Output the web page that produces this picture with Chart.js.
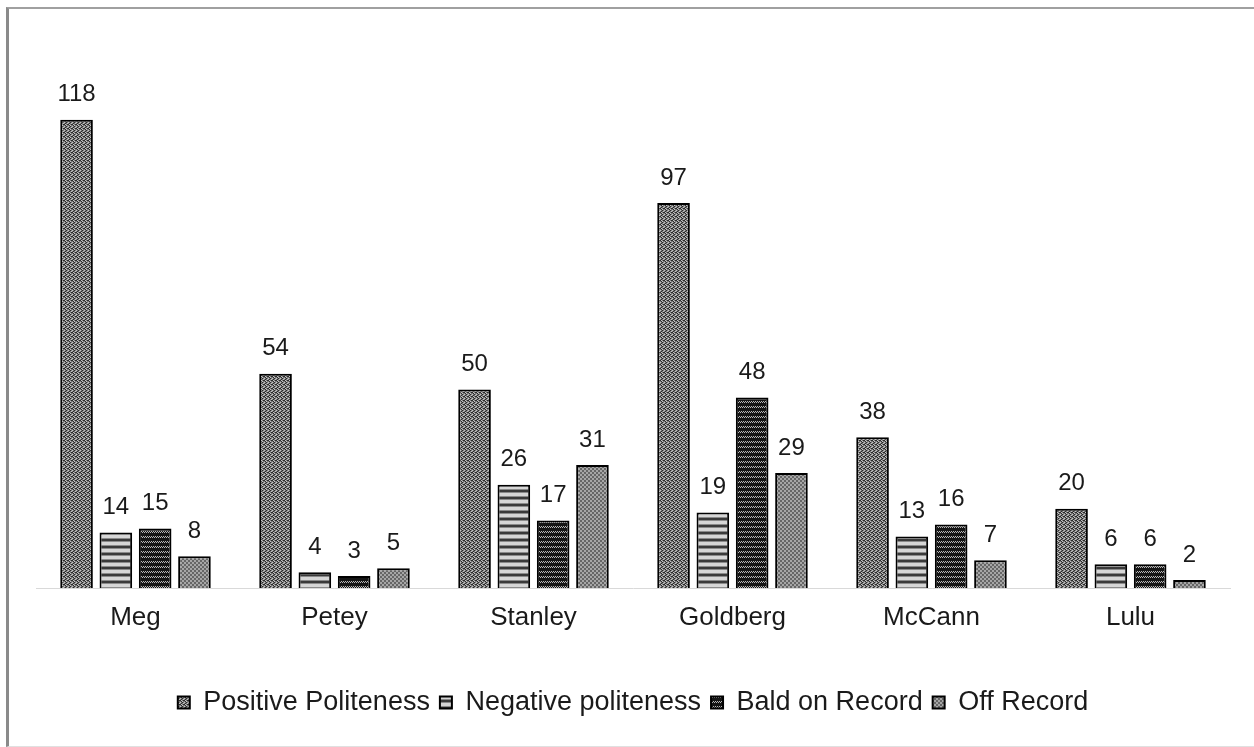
<!DOCTYPE html>
<html>
<head>
<meta charset="utf-8">
<script src="https://cdn.jsdelivr.net/npm/chart.js@4.4.1/dist/chart.umd.min.js"></script>
<style>
  html, body { margin: 0; padding: 0; background: #fff; }
  #wrap { position: relative; width: 1254px; height: 747px; }
  #frame {
    position: absolute; left: 6px; top: 7px; right: 0; bottom: 0;
    border-left: 3px solid #8a8a8a; border-top: 2px solid #a0a0a0; border-bottom: 1px solid #e0e0e0;
    pointer-events: none;
  }
</style>
</head>
<body>
<div id="wrap">
  <canvas id="chart" width="1254" height="747"></canvas>
  <div id="frame"></div>
</div>
<script>
// chart data
const categories = ['Meg', 'Petey', 'Stanley', 'Goldberg', 'McCann', 'Lulu'];
const positivePoliteness = [118, 54, 50, 97, 38, 20];
const negativePoliteness = [14, 4, 26, 19, 13, 6];
const baldOnRecord = [15, 3, 17, 48, 16, 6];
const offRecord = [8, 5, 31, 29, 7, 2];

const FONT = '"Liberation Sans", Arial, sans-serif';

// build a small tiled pattern from rows of colour keys
function makePattern(rows, palette) {
    const c = document.createElement('canvas');
    c.width = rows[0].length;
    c.height = rows.length;
    const g = c.getContext('2d');
    rows.forEach((row, y) => {
        [...row].forEach((k, x) => {
            g.fillStyle = palette[k];
            g.fillRect(x, y, 1, 1);
        });
    });
    return g.createPattern(c, 'repeat');
}

const patPositive = makePattern([
    'bwgb',
    'gbwg',
    'wgbg',
    'gbgw'
], { b: '#2a2a2a', g: '#7a7a7a', w: '#c4c4c4' });

const patNegative = makePattern([
    'd', 'd', 'g', 'l', 'l', 'l', 'g'
], { d: '#3a3a3a', g: '#8a8a8a', l: '#d6d6d6' });

const patBald = makePattern([
    'bbbbbb',
    'bwbwbw',
    'wbwbwb',
    'bbbbbb',
    'bbbbbb'
], { b: '#151515', w: '#b8b8b8' });

const patOff = makePattern([
    'ggll',
    'ggll',
    'llgg',
    'llgg'
], { g: '#666', l: '#a6a6a6' });

// value labels above the bars
const valueLabels = {
    id: 'valueLabels',
    afterDatasetsDraw(chart) {
        const ctx = chart.ctx;
        ctx.save();
        ctx.font = '24px ' + FONT;
        ctx.fillStyle = '#1a1a1a';
        ctx.textAlign = 'center';
        ctx.textBaseline = 'middle';
        chart.data.datasets.forEach((ds, i) => {
            chart.getDatasetMeta(i).data.forEach((bar, j) => {
                ctx.fillText(ds.data[j], bar.x, bar.y - 25);
            });
        });
        ctx.restore();
    }
};

const mkSet = (label, data, pat) => ({
    label, data,
    backgroundColor: pat,
    borderColor: '#000',
    borderWidth: 2,
    borderSkipped: 'bottom',
    categoryPercentage: 0.79,
    barPercentage: 0.83
});

new Chart(document.getElementById('chart'), {
    type: 'bar',
    data: {
        labels: categories,
        datasets: [
            mkSet('Positive Politeness', positivePoliteness, patPositive),
            mkSet('Negative politeness', negativePoliteness, patNegative),
            mkSet('Bald on Record', baldOnRecord, patBald),
            mkSet('Off Record', offRecord, patOff)
        ]
    },
    options: {
        responsive: false,
        animation: false,
        layout: { padding: { left: 36, right: 24, top: 92, bottom: 21 } },
        scales: {
            x: {
                grid: { display: false, drawTicks: false },
                border: { display: true, color: '#d9d9d9', width: 1 },
                ticks: { color: '#1a1a1a', font: { family: FONT, size: 26 }, padding: 14 },
                afterFit: (axis) => { axis.height = 91; }
            },
            y: {
                display: false,
                min: 0,
                max: 125
            }
        },
        plugins: {
            legend: {
                position: 'bottom',
                labels: {
                    color: '#1a1a1a',
                    font: { family: FONT, size: 27 },
                    boxWidth: 12,
                    boxHeight: 12,
                    padding: 10
                }
            },
            tooltip: { enabled: false }
        }
    },
    plugins: [valueLabels]
});
</script>
</body>
</html>
